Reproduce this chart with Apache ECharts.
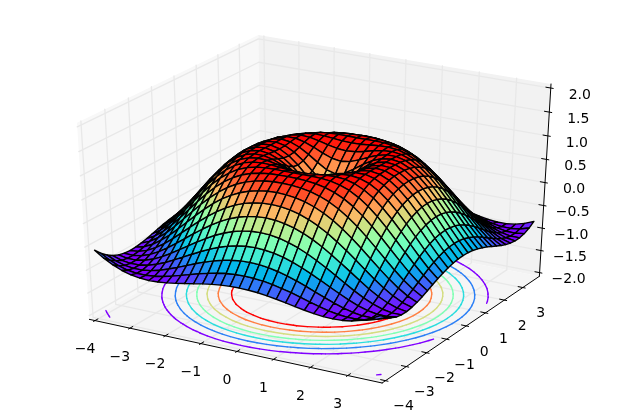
<!DOCTYPE html>
<html><head><meta charset="utf-8">
<style>html,body{margin:0;padding:0;background:#fff}#c{width:619px;height:419px}</style>
<script src="https://cdn.jsdelivr.net/npm/echarts@6/dist/echarts.min.js"></script>
</head><body><div id="c"></div>
<script>
// sample positions along both ground axes
const gridX = [-4,-3.75,-3.5,-3.25,-3,-2.75,-2.5,-2.25,-2,-1.75,-1.5,-1.25,-1,-0.75,-0.5,-0.25,0,0.25,0.5,0.75,1,1.25,1.5,1.75,2,2.25,2.5,2.75,3,3.25,3.5,3.75];
const gridY = gridX;
// surface height by distance in grid steps from the centre (row = larger offset, col = smaller offset)
const zQuarter = [
[0],
[.247,.346],
[.479,.530,.650],
[.682,.711,.784,.873],
[.841,.857,.899,.949,.988],
[.949,.957,.975,.994,1.0,.981],
[.997,.999,1.0,.994,.973,.928,.853],
[.984,.981,.969,.945,.903,.836,.742,.619],
[.909,.903,.882,.844,.787,.706,.598,.465,.308],
[.778,.769,.742,.696,.629,.537,.425,.287,.131,-.040],
[.598,.588,.558,.507,.434,.339,.224,.089,-.060,-.220,-.384],
[.382,.372,.339,.287,.214,.120,.009,-.118,-.256,-.400,-.544,-.680],
[.141,.131,.100,.049,-.021,-.108,-.211,-.325,-.448,-.572,-.692,-.800,-.892],
[-.108,-.118,-.146,-.192,-.256,-.334,-.424,-.523,-.625,-.723,-.818,-.897,-.958,-.993],
[-.351,-.359,-.384,-.424,-.478,-.544,-.618,-.698,-.776,-.852,-.917,-.966,-.995,-.998,-.972],
[-.572,-.579,-.598,-.632,-.675,-.723,-.782,-.839,-.895,-.944,-.979,-.998,-.996,-.969,-.913,-.831],
[-.757,-.762,-.776,-.800,-.831,-.868,-.904,-.941,-.971,-.992,-1.0,-.990,-.959,-.905,-.824,-.718,-.586]
];
const contourLevels = [-0.75,-0.5,-0.25,0,0.25,0.5,0.75];
const contourOffset = -2;
const xTicks = [-4,-3,-2,-1,0,1,2,3];
const yTicks = [-4,-3,-2,-1,0,1,2,3];
const zTicks = [-2,-1.5,-1,-0.5,0,0.5,1,1.5,2];
const xTickLabels = ['\u22124','\u22123','\u22122','\u22121','0','1','2','3'];
const yTickLabels = ['\u22124','\u22123','\u22122','\u22121','0','1','2','3'];
const zTickLabels = ['\u22122.0','\u22121.5','\u22121.0','\u22120.5','0.0','0.5','1.0','1.5','2.0'];
const xLim = [-4,3.75], yLim = [-4,3.75], zLim = [-2,2];

const N = gridX.length;
const heightAt = (r,c)=>{const a=Math.abs(r-16),b=Math.abs(c-16);return zQuarter[Math.max(a,b)][Math.min(a,b)];};

// camera: elevation 30, azimuth -60, distance 10
const U=[Math.sqrt(3)/2,0.5,0], V_=[-0.25,Math.sqrt(3)/4,Math.sqrt(3)/2], W=[Math.sqrt(3)/4,-0.75,0.5];
function project(x,y,z){
  const q=[(x-xLim[0])/(xLim[1]-xLim[0])-.5,(y-yLim[0])/(yLim[1]-yLim[0])-.5,(z-zLim[0])/(zLim[1]-zLim[0])-.5];
  const d=(a)=>a[0]*q[0]+a[1]*q[1]+a[2]*q[2];
  const w=10-d(W);
  return [d(U)/w,d(V_)/w,w];
}
function rainbow(t){
  t=Math.max(0,Math.min(1,t));
  const r=Math.min(1,Math.abs(2*t-.5)),g=Math.sin(Math.PI*t),b=Math.cos(Math.PI*t/2);
  return 'rgb('+Math.round(r*255)+','+Math.round(g*255)+','+Math.round(b*255)+')';
}
// facets
let facets=[];
for(let r=0;r<N-1;r++)for(let c=0;c<N-1;c++){
  const pts=[[c,r],[c+1,r],[c+1,r+1],[c,r+1]].map(p=>[gridX[p[0]],gridY[p[1]],heightAt(p[1],p[0])]);
  const avg=pts.reduce((s,p)=>s+p[2],0)/4;
  const pr=pts.map(p=>project(p[0],p[1],p[2]));
  const depth=pr.reduce((s,p)=>s+p[2],0)/4;
  const cx=pr.reduce((s,p)=>s+p[0],0)/4, cy=pr.reduce((s,p)=>s+p[1],0)/4;
  facets.push({pts:pr,avg,depth,cx,cy});
}
facets.sort((a,b)=>b.depth-a.depth);
const aMin=Math.min(...facets.map(f=>f.avg)),aMax=Math.max(...facets.map(f=>f.avg));

// contour segments from the same table
let contourSegs=[];
contourLevels.forEach(function(L,k){
  const col=rainbow(k/(contourLevels.length-1));
  for(let r=0;r<N-1;r++)for(let c=0;c<N-1;c++){
    const cs=[[c,r],[c+1,r],[c+1,r+1],[c,r+1]];
    let hits=[];
    for(let e=0;e<4;e++){
      const A=cs[e],B=cs[(e+1)%4],za=heightAt(A[1],A[0]),zb=heightAt(B[1],B[0]);
      if((za<L)!==(zb<L)){
        const t=(L-za)/(zb-za);
        hits.push([gridX[A[0]]+t*(gridX[B[0]]-gridX[A[0]]),gridY[A[1]]+t*(gridY[B[1]]-gridY[A[1]])]);
      }
    }
    for(let h=0;h+1<hits.length;h+=2){
      contourSegs.push({pts:[hits[h],hits[h+1]].map(p=>project(p[0],p[1],contourOffset)),color:col,width:1.4});
    }
  }
});

// box, expanded by 1/48 of each range
const ex=(xLim[1]-xLim[0])/48,ey=(yLim[1]-yLim[0])/48,ez=(zLim[1]-zLim[0])/48;
const x0=xLim[0]-ex,x1=xLim[1]+ex,y0=yLim[0]-ey,y1=yLim[1]+ey,z0=zLim[0]-ez,z1=zLim[1]+ez;
const P=(x,y,z)=>project(x,y,z);
const panes=[
 {pts:[P(x0,y0,z0),P(x0,y1,z0),P(x0,y1,z1),P(x0,y0,z1)],fill:'#f8f8f8'},
 {pts:[P(x0,y1,z0),P(x1,y1,z0),P(x1,y1,z1),P(x0,y1,z1)],fill:'#f2f2f2'},
 {pts:[P(x0,y0,z0),P(x1,y0,z0),P(x1,y1,z0),P(x0,y1,z0)],fill:'#f5f5f5'}
];
let gridLines=[],axisLines=[],labels=[];
const GC='#e8e8e8',GW=1.3;
xTicks.forEach(t=>gridLines.push({pts:[P(t,y0,z0),P(t,y1,z0),P(t,y1,z1)],color:GC,width:GW}));
yTicks.forEach(t=>gridLines.push({pts:[P(x1,t,z0),P(x0,t,z0),P(x0,t,z1)],color:GC,width:GW}));
zTicks.forEach(t=>gridLines.push({pts:[P(x0,y0,t),P(x0,y1,t),P(x1,y1,t)],color:GC,width:GW}));
axisLines.push({pts:[P(x0,y0,z0),P(x1,y0,z0)],color:'#000',width:1});
axisLines.push({pts:[P(x1,y0,z0),P(x1,y1,z0)],color:'#000',width:1});
axisLines.push({pts:[P(x1,y1,z0),P(x1,y1,z1)],color:'#000',width:1});
const dx=(xLim[1]-xLim[0])/12,dy=(yLim[1]-yLim[0])/12;
xTicks.forEach((t,i)=>{
  axisLines.push({pts:[P(t,y0-.1*dy,z0),P(t,y0+.2*dy,z0)],color:'#000',width:1});
  const p=P(t,y0,z0);labels.push({p,text:xTickLabels[i],ox:-10,oy:29});
});
yTicks.forEach((t,i)=>{
  axisLines.push({pts:[P(x1+.1*dx,t,z0),P(x1-.2*dx,t,z0)],color:'#000',width:1});
  const p=P(x1,t,z0);labels.push({p,text:yTickLabels[i],ox:18,oy:26});
});
zTicks.forEach((t,i)=>{
  axisLines.push({pts:[P(x1+.1*dx,y1,t),P(x1-.2*dx,y1,t)],color:'#000',width:1});
  const p=P(x1,y1,t);labels.push({p,text:zTickLabels[i],ox:29,oy:7});
});

const toPx=(api,pts)=>pts.map(p=>api.coord([p[0],p[1]]));
function lineSeries(name,list,z){
  return {type:'custom',name,z,silent:true,clip:false,animation:false,progressive:0,
    data:list.map(l=>[l.pts[0][0],l.pts[0][1]]),encode:{x:0,y:1},
    renderItem:(params,api)=>{const l=list[params.dataIndex];
      return {type:'polyline',shape:{points:toPx(api,l.pts)},
        style:{fill:null,stroke:l.color,lineWidth:l.width,lineCap:'round',lineJoin:'round'}};}};
}
const series=[
 {type:'custom',name:'panes',z:1,silent:true,clip:false,animation:false,progressive:0,
  data:panes.map(l=>[l.pts[0][0],l.pts[0][1]]),encode:{x:0,y:1},
  renderItem:(params,api)=>{const l=panes[params.dataIndex];
    return {type:'polygon',shape:{points:toPx(api,l.pts)},style:{fill:l.fill,stroke:null}};}},
 lineSeries('grid',gridLines,2),
 lineSeries('axes',axisLines,3),
 lineSeries('contours',contourSegs,4),
 {type:'custom',name:'surface',z:5,silent:true,clip:false,animation:false,progressive:0,
  data:facets.map(f=>[f.cx,f.cy,f.avg]),encode:{x:0,y:1},
  renderItem:(params,api)=>{const f=facets[params.dataIndex];
    return {type:'polygon',shape:{points:toPx(api,f.pts)},
      style:{fill:rainbow((f.avg-aMin)/(aMax-aMin)),stroke:'#000',lineWidth:1.4,lineJoin:'round'}};}},
 {type:'custom',name:'ticklabels',z:6,silent:true,clip:false,animation:false,progressive:0,
  data:labels.map(l=>[l.p[0],l.p[1]]),encode:{x:0,y:1},
  renderItem:(params,api)=>{const l=labels[params.dataIndex];const c=api.coord([l.p[0],l.p[1]]);
    return {type:'text',x:c[0]+l.ox,y:c[1]+l.oy,
      style:{text:l.text,fill:'#000',font:'14px "DejaVu Sans"',textAlign:'center',textVerticalAlign:'middle'}};}}
];
const chart=echarts.init(document.getElementById('c'),null,{renderer:'canvas'});
chart.setOption({animation:false,backgroundColor:'#fff',
  grid:{left:0,right:0,top:0,bottom:0},
  xAxis:{type:'value',min:-0.09804,max:0.09279,show:false},
  yAxis:{type:'value',min:-0.10037,max:0.09415,show:false},
  series});
</script></body></html>
